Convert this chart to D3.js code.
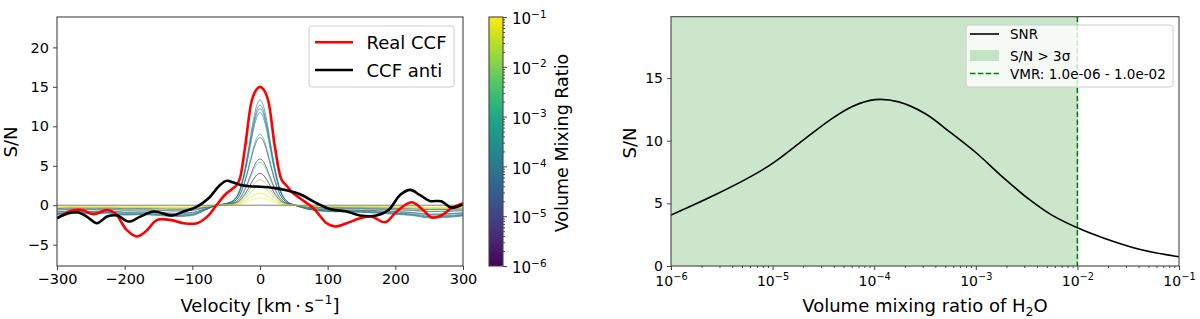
<!DOCTYPE html>
<html>
<head>
<meta charset="utf-8">
<script src="https://cdn.jsdelivr.net/npm/d3@7"></script>
<style>
    body { margin: 0; background: #fff; }
    svg { display: block; font-family: "DejaVu Sans", sans-serif; }
</style>
</head>
<body>
<svg id="chart" width="1200" height="319"></svg>
<script>
// ---- left panel: cross-correlation functions ----
const realVel = [-300, -280, -263, -246, -226, -214, -197, -182, -169, -152, -133, -113, -93, -78,
    -64, -52, -42, -35, -30, -22, -12, -5, 0, 5, 12, 22, 32, 39, 48, 59, 79, 98.5, 111, 128,
    148, 165, 185, 202, 224, 241, 254, 268, 283, 300];
const realSN = [-1.65, -0.72, -0.6, -1.14, -0.6, -1.03, -3.13, -3.97, -3.34, -1.86, -1.86, -2.28, -2.28, -1.44,
    0.04, 1.3, 2.0, 2.5, 3.3, 7.4, 13.3, 14.7, 15.0, 14.7, 13.3, 7.4, 3.2, 2.5, 1.6, 0.88, -0.38, -2.28, -2.7, -2.28,
    -1.65, -1.44, -2.16, -0.8, 0.38, -0.6, -1.57, -1.3, -0.38, 0.25];

const antiVel = [-300, -283, -270, -256, -241, -226, -211, -194, -177, -157, -130, -113, -93, -76,
    -59, -49, -40, -30, -15, 0, 20, 39, 52, 64, 84, 103, 128, 148, 172, 190, 207, 222, 236, 251, 268, 283, 300];
const antiSN = [-1.65, -1.03, -0.9, -1.44, -2.28, -1.44, -1.3, -2.07, -1.44, -0.8, -1.3, -0.8, -0.17, 0.88,
    2.57, 3.1, 2.9, 2.6, 2.4, 2.35, 2.2, 1.9, 1.6, 1.2, 0.25, -0.47, -0.8, -1.3, -1.3, -0.6, 1.3, 1.94, 1.3, 0.55, 0.5, -0.3, 0.12];

// model CCFs: shared line shape and wing, scaled per mixing ratio
const modelVel = [-300, -275, -250, -225, -200, -175, -150, -125, -100, -85, -70, -60, -50, -40, -30, -20, -15, -10, -5,
    0, 5, 10, 15, 20, 30, 40, 50, 60, 70, 85, 100, 125, 150, 175, 200, 225, 250, 275, 300];
const modelShape = [0, 0, 0, 0, 0, 0, 0, 0, 0, 0, 0, 0, 0.008, 0.035, 0.14, 0.42, 0.61, 0.8, 0.945,
    1, 0.945, 0.8, 0.61, 0.42, 0.14, 0.035, 0.008, 0, 0, 0, 0, 0, 0, 0, 0, 0, 0, 0, 0];
const modelWing = [-1.2, -1.0, -1.1, -1.0, -1.25, -1.2, -1.3, -1.45, -1.3, -0.8, -0.2, 0.05, 0.12, 0.12, 0.1, 0.1, 0.1, 0.1, 0.1,
    0.1, 0.1, 0.1, 0.1, 0.1, 0.1, 0.05, -0.05, -0.25, -0.5, -0.7, -0.8, -0.85, -0.9, -1.0, -1.15, -1.3, -1.6, -1.55, -1.35];
const modelVmr = [1e-4, 2e-4, 5e-5, 3e-4, 1e-3, 1e-5, 3e-6, 3e-3, 1e-6, 1e-2, 2e-2, 5e-2, 1e-1];
const modelPeak = [13.25, 12.6, 12.15, 11.65, 8.9, 8.5, 5.8, 5.4, 4.0, 3.2, 2.4, 1.5, 0.9];
const modelDepth = [1.0, 0.95, 0.9, 0.85, 0.75, 0.7, 0.5, 0.5, 0.35, 0.3, 0.25, 0.2, 0.15];

const velTicks = [-300, -200, -100, 0, 100, 200, 300];
const snTicksLeft = [-5, 0, 5, 10, 15, 20];
const decades = [1e-6, 1e-5, 1e-4, 1e-3, 1e-2, 1e-1];

// ---- right panel: S/N against H2O mixing ratio ----
const snrVmr = [1e-6, 2.69e-6, 6.46e-6, 1.05e-5, 1.82e-5, 3.63e-5, 6.17e-5, 1.02e-4, 1.74e-4, 3.16e-4,
    5.75e-4, 1.02e-3, 1.78e-3, 3.31e-3, 5.5e-3, 1e-2, 1.86e-2, 4.37e-2, 1e-1];
const snrValue = [4.06, 5.66, 7.25, 8.31, 9.78, 11.63, 12.75, 13.28, 13.1, 12.17,
    10.6, 9.0, 7.2, 5.35, 4.1, 3.05, 2.2, 1.27, 0.74];
const detectRange = [1e-6, 1e-2];
const snTicksRight = [0, 5, 10, 15];

const svg = d3.select('#chart');
const axisColor = '#444';
const font = 'DejaVu Sans';

const minors = [];
decades.slice(0, -1).forEach(d => { for (let k = 2; k <= 9; k++) minors.push(d * k); });

function styleAxis(g, size) {
    g.attr('font-family', font).attr('font-size', size);
    g.select('.domain').remove();
    g.selectAll('.tick line').attr('stroke', axisColor).attr('stroke-width', 1);
    g.selectAll('.tick text').attr('fill', '#000');
}

function powerLabels(g, size) {
    g.selectAll('.tick text').each(function (d) {
        const t = d3.select(this).text('');
        t.append('tspan').text('10');
        t.append('tspan')
            .attr('font-size', size * 0.7)
            .attr('dy', -size * 0.45)
            .text('\u2212' + Math.round(-Math.log10(d)));
    });
}

function frame(x0, y0, x1, y1) {
    svg.append('rect')
        .attr('x', x0).attr('y', y0)
        .attr('width', x1 - x0).attr('height', y1 - y0)
        .attr('fill', 'none')
        .attr('stroke', axisColor)
        .attr('stroke-width', 1.1);
}

// ================= left panel =================
const L = {x0: 57, x1: 463, y0: 17, y1: 266};
const xL = d3.scaleLinear().domain([-300, 300]).range([L.x0, L.x1]);
const yL = d3.scaleLinear().domain([-7.7, 23.85]).range([L.y1, L.y0]);
const vmrColor = d3.scaleSequentialLog(d3.interpolateViridis).domain([1e-6, 1e-1]);

svg.append('clipPath').attr('id', 'clipL')
    .append('rect').attr('x', L.x0).attr('y', L.y0).attr('width', L.x1 - L.x0).attr('height', L.y1 - L.y0);

const plotL = svg.append('g').attr('clip-path', 'url(#clipL)');

const modelLine = d3.line()
    .x((d, i) => xL(modelVel[i]))
    .y(d => yL(d))
    .curve(d3.curveMonotoneX);

modelVmr.forEach((vmr, k) => {
    const values = modelVel.map((v, i) => modelPeak[k] * modelShape[i] + modelDepth[k] * modelWing[i]);
    plotL.append('path')
        .datum(values)
        .attr('class', 'model')
        .attr('d', modelLine)
        .attr('fill', 'none')
        .attr('stroke', vmrColor(vmr))
        .attr('stroke-opacity', 0.65)
        .attr('stroke-width', 1);
});

plotL.append('line')
    .attr('x1', L.x0).attr('x2', L.x1)
    .attr('y1', yL(0)).attr('y2', yL(0))
    .attr('stroke', 'gray').attr('stroke-width', 1);

const ccfLine = d3.line()
    .x(d => xL(d[0]))
    .y(d => yL(d[1]))
    .curve(d3.curveCatmullRom.alpha(0.5));

plotL.append('path')
    .datum(d3.zip(realVel, realSN))
    .attr('d', ccfLine)
    .attr('fill', 'none')
    .attr('stroke', 'red')
    .attr('stroke-width', 2.6);

plotL.append('path')
    .datum(d3.zip(antiVel, antiSN))
    .attr('d', ccfLine)
    .attr('fill', 'none')
    .attr('stroke', 'black')
    .attr('stroke-width', 2.6);

svg.append('g')
    .attr('transform', `translate(0,${L.y1})`)
    .call(d3.axisBottom(xL).tickValues(velTicks).tickSize(4).tickPadding(4).tickSizeOuter(0))
    .call(g => styleAxis(g, 14.5));

svg.append('g')
    .attr('transform', `translate(${L.x0},0)`)
    .call(d3.axisLeft(yL).tickValues(snTicksLeft).tickSize(4).tickPadding(4).tickSizeOuter(0))
    .call(g => styleAxis(g, 14.5));

frame(L.x0, L.y0, L.x1, L.y1);

// legend
const legL = svg.append('g');
legL.append('rect')
    .attr('x', 309).attr('y', 26).attr('width', 145).attr('height', 61).attr('rx', 3)
    .attr('fill', 'white').attr('fill-opacity', 0.8).attr('stroke', '#ccc');
[['Real CCF', 'red', 42.3], ['CCF anti', 'black', 70]].forEach(([name, color, y]) => {
    legL.append('line')
        .attr('x1', 315).attr('x2', 353).attr('y1', y).attr('y2', y)
        .attr('stroke', color).attr('stroke-width', 2.6);
    legL.append('text')
        .attr('x', 366.5).attr('y', y + 6.5)
        .attr('font-size', 18)
        .text(name);
});

// axis labels
svg.append('text')
    .attr('transform', 'translate(16.5,142) rotate(-90)')
    .attr('text-anchor', 'middle')
    .attr('font-size', 18)
    .text('S/N');

const velLabel = svg.append('text')
    .attr('x', (L.x0 + L.x1) / 2).attr('y', 312)
    .attr('text-anchor', 'middle')
    .attr('font-size', 18);
velLabel.append('tspan').text('Velocity [km\u2009\u00b7\u2009s');
velLabel.append('tspan').attr('font-size', 12.6).attr('dy', -8).text('\u22121');
velLabel.append('tspan').attr('dy', 8).text(']');

// colorbar
const CB = {x0: 489, x1: 503, y0: 17, y1: 266};
const cbScale = d3.scaleLog().domain([1e-6, 1e-1]).range([CB.y1, CB.y0]);
const grad = svg.append('defs').append('linearGradient')
    .attr('id', 'viridis').attr('x1', 0).attr('x2', 0).attr('y1', 1).attr('y2', 0);
d3.range(0, 1.0001, 0.05).forEach(t => {
    grad.append('stop').attr('offset', t).attr('stop-color', d3.interpolateViridis(t));
});
svg.append('rect')
    .attr('x', CB.x0).attr('y', CB.y0).attr('width', CB.x1 - CB.x0).attr('height', CB.y1 - CB.y0)
    .attr('fill', 'url(#viridis)');

svg.append('g')
    .attr('transform', `translate(${CB.x1},0)`)
    .call(d3.axisRight(cbScale).tickValues(minors).tickSize(2).tickFormat(''))
    .call(g => styleAxis(g, 15));
svg.append('g')
    .attr('transform', `translate(${CB.x1},0)`)
    .call(d3.axisRight(cbScale).tickValues(decades).tickSize(4).tickPadding(5))
    .call(g => styleAxis(g, 15))
    .call(g => g.selectAll('.tick text').attr('dy', '0.45em'))
    .call(g => powerLabels(g, 15));
frame(CB.x0, CB.y0, CB.x1, CB.y1);

svg.append('text')
    .attr('transform', `translate(568,143) rotate(-90)`)
    .attr('text-anchor', 'middle')
    .attr('font-size', 17.5)
    .text('Volume Mixing Ratio');

// ================= right panel =================
const R = {x0: 671, x1: 1179, y0: 16.7, y1: 266};
const xR = d3.scaleLog().domain([1e-6, 1e-1]).range([R.x0, R.x1]);
const yR = d3.scaleLinear().domain([0, 19.9]).range([R.y1, R.y0]);

svg.append('clipPath').attr('id', 'clipR')
    .append('rect').attr('x', R.x0).attr('y', R.y0).attr('width', R.x1 - R.x0).attr('height', R.y1 - R.y0);
const plotR = svg.append('g').attr('clip-path', 'url(#clipR)');

plotR.append('rect')
    .attr('x', xR(detectRange[0])).attr('y', R.y0)
    .attr('width', xR(detectRange[1]) - xR(detectRange[0]))
    .attr('height', R.y1 - R.y0)
    .attr('fill', 'green').attr('fill-opacity', 0.2);

plotR.append('line')
    .attr('x1', xR(detectRange[1])).attr('x2', xR(detectRange[1]))
    .attr('y1', R.y0).attr('y2', R.y1)
    .attr('stroke', 'green').attr('stroke-width', 1.6)
    .attr('stroke-dasharray', '5.5,2.4');

plotR.append('path')
    .datum(d3.zip(snrVmr, snrValue))
    .attr('d', d3.line().x(d => xR(d[0])).y(d => yR(d[1])).curve(d3.curveCatmullRom.alpha(0.5)))
    .attr('fill', 'none')
    .attr('stroke', 'black')
    .attr('stroke-width', 1.6);

svg.append('g')
    .attr('transform', `translate(0,${R.y1})`)
    .call(d3.axisBottom(xR).tickValues(minors).tickSize(2).tickFormat(''))
    .call(g => styleAxis(g, 14));
svg.append('g')
    .attr('transform', `translate(0,${R.y1})`)
    .call(d3.axisBottom(xR).tickValues(decades).tickSize(4).tickPadding(6))
    .call(g => styleAxis(g, 14))
    .call(g => powerLabels(g, 14));

svg.append('g')
    .attr('transform', `translate(${R.x0},0)`)
    .call(d3.axisLeft(yR).tickValues(snTicksRight).tickSize(4).tickPadding(4).tickSizeOuter(0))
    .call(g => styleAxis(g, 14));

frame(R.x0, R.y0, R.x1, R.y1);

// legend
const legR = svg.append('g').attr('font-size', 13.5);
legR.append('rect')
    .attr('x', 966).attr('y', 25).attr('width', 207).attr('height', 62).attr('rx', 3)
    .attr('fill', 'white').attr('fill-opacity', 0.8).attr('stroke', '#ccc');
legR.append('line')
    .attr('x1', 970).attr('x2', 999).attr('y1', 34).attr('y2', 34)
    .attr('stroke', 'black').attr('stroke-width', 1.6);
legR.append('rect')
    .attr('x', 970).attr('y', 50).attr('width', 29).attr('height', 11)
    .attr('fill', 'green').attr('fill-opacity', 0.2);
legR.append('line')
    .attr('x1', 970).attr('x2', 999).attr('y1', 73.5).attr('y2', 73.5)
    .attr('stroke', 'green').attr('stroke-width', 1.6).attr('stroke-dasharray', '5.5,2.4');
[['SNR', 34], ['S/N > 3\u03c3', 56], ['VMR: 1.0e-06 - 1.0e-02', 74]].forEach(([name, y]) => {
    legR.append('text').attr('x', 1010).attr('y', y + 5).text(name);
});

svg.append('text')
    .attr('transform', 'translate(636,143) rotate(-90)')
    .attr('text-anchor', 'middle')
    .attr('font-size', 18)
    .text('S/N');

const vmrLabel = svg.append('text')
    .attr('x', (R.x0 + R.x1) / 2).attr('y', 312)
    .attr('text-anchor', 'middle')
    .attr('font-size', 18);
vmrLabel.append('tspan').text('Volume mixing ratio of H');
vmrLabel.append('tspan').attr('font-size', 12.6).attr('dy', 4).text('2');
vmrLabel.append('tspan').attr('dy', -4).text('O');
</script>
</body>
</html>
